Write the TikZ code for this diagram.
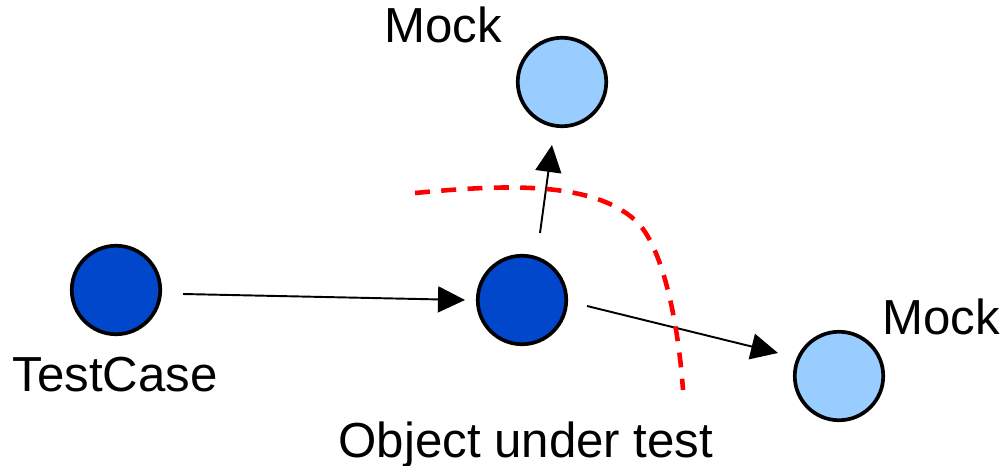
\documentclass[tikz,border=0pt]{standalone}
\usepackage{fontspec}
\setmainfont{Liberation Sans}
\usetikzlibrary{arrows.meta}
\definecolor{objblue}{RGB}{0,71,204}
\definecolor{mockblue}{RGB}{153,204,255}
\definecolor{bordred}{RGB}{255,0,0}
\tikzset{
  ball/.style={circle, draw=black, line width=2.1pt, minimum size=1.77cm, inner sep=0pt, outer sep=0pt},
  realobj/.style={ball, fill=objblue},
  mockobj/.style={ball, fill=mockblue},
  lbl/.style={inner sep=0pt, anchor=base, font=\fontsize{28}{33}\selectfont},
  msg/.style={line width=1.1pt, -{Triangle[length=0.54cm, width=0.52cm]}},
  boundary/.style={draw=bordred, line width=2.6pt, dash pattern=on 8.5pt off 6.5pt}
}
\begin{document}
\begin{tikzpicture}[x=0.02cm, y=-0.02cm]
  \useasboundingbox (0,0) rectangle (1002,466);

  % objects
  \node[realobj] (tc) at (116,290) {};
  \node[realobj] (obj) at (522,300) {};
  \node[mockobj] (mtop) at (562,82) {};
  \node[mockobj] (mright) at (839,376) {};

  % labels
  \node[lbl] (ltc) at (115,391) {TestCase};
  \node[lbl] (lobj) at (526,458) {Object under test};
  \node[lbl] (lmtop) at (443,43) {Mock};
  \node[lbl] (lmright) at (941,335) {Mock};

  % messages
  \draw[msg] ([shift={(67,4)}]tc.center) -- ([shift={(-57,0)}]obj.center);
  \draw[msg] ([shift={(18,-67)}]obj.center) -- ([shift={(-10,63)}]mtop.center);
  \draw[msg] ([shift={(65,6)}]obj.center) -- ([shift={(-61,-23)}]mright.center);

  % boundary of the tested unit
  \draw[boundary] (415,193) .. controls (500,185) and (590,180) .. (635,220)
                  .. controls (662,244) and (678,320) .. (683,390);
\end{tikzpicture}
\end{document}
